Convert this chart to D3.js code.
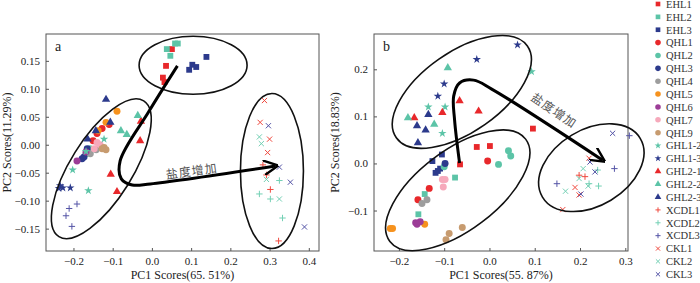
<!DOCTYPE html>
<html>
<head>
<meta charset="utf-8">
<script src="https://cdn.jsdelivr.net/npm/d3@7"></script>
<style>
  body { margin: 0; background: #fff; }
  svg { display: block; font-family: 'Liberation Serif', 'DejaVu Serif', serif; }
</style>
</head>
<body>
<svg id="chart" width="700" height="283"></svg>
<script>
// series (legend order)
const seriesNames = ['EHL1', 'EHL2', 'EHL3', 'QHL1', 'QHL2', 'QHL3', 'QHL4', 'QHL5', 'QHL6', 'QHL7', 'QHL9',
  'GHL1-2', 'GHL1-3', 'GHL2-1', 'GHL2-2', 'GHL2-3', 'XCDL1', 'XCDL2', 'XCDL3', 'CKL1', 'CKL2', 'CKL3']

// PC scores, rows: [series, PC1, PC2]
const scoresA = [
  ['EHL1', 0.051, 0.171], ['EHL1', 0.036, 0.141], ['EHL1', 0.028, 0.120], ['EHL1', 0.032, 0.112],
  ['EHL2', 0.059, 0.181], ['EHL2', 0.066, 0.181], ['EHL2', 0.038, 0.171], ['EHL2', 0.047, 0.159],
  ['EHL3', 0.139, 0.157], ['EHL3', 0.103, 0.143], ['EHL3', 0.113, 0.139], ['EHL3', 0.095, 0.134],
  ['QHL1', -0.127, 0.029], ['QHL1', -0.140, 0.020], ['QHL1', -0.109, 0.036], ['QHL1', -0.150, 0.007],
  ['QHL2', -0.168, -0.016], ['QHL2', -0.158, -0.007],
  ['QHL3', -0.165, -0.007], ['QHL3', -0.173, -0.022], ['QHL3', -0.178, -0.025],
  ['QHL4', -0.142, -0.009], ['QHL4', -0.157, -0.016],
  ['QHL5', -0.089, 0.060], ['QHL5', -0.117, 0.040], ['QHL5', -0.137, 0.025],
  ['QHL6', -0.191, -0.029], ['QHL6', -0.168, -0.013],
  ['QHL7', -0.132, 0.000], ['QHL7', -0.140, 0.004], ['QHL7', -0.147, -0.007],
  ['QHL9', -0.122, -0.005], ['QHL9', -0.117, -0.009], ['QHL9', -0.127, -0.007],
  ['GHL1-2', -0.202, -0.045], ['GHL1-2', -0.162, -0.082], ['GHL1-2', -0.122, 0.010], ['GHL1-2', -0.168, -0.012],
  ['GHL1-3', -0.234, -0.073], ['GHL1-3', -0.227, -0.077], ['GHL1-3', -0.237, -0.078], ['GHL1-3', -0.208, -0.077],
  ['GHL2-1', -0.028, 0.042], ['GHL2-1', -0.030, 0.007], ['GHL2-1', -0.105, -0.053], ['GHL2-1', -0.089, -0.084],
  ['GHL2-2', -0.036, 0.052], ['GHL2-2', -0.079, 0.025], ['GHL2-2', -0.064, 0.018],
  ['GHL2-3', -0.117, 0.081], ['GHL2-3', -0.106, 0.040], ['GHL2-3', -0.143, 0.025], ['GHL2-3', -0.164, 0.010],
  ['XCDL1', 0.283, -0.036], ['XCDL1', 0.292, -0.054], ['XCDL1', 0.302, -0.080], ['XCDL1', 0.323, -0.172],
  ['XCDL2', 0.325, -0.064], ['XCDL2', 0.274, -0.088], ['XCDL2', 0.302, -0.097], ['XCDL2', 0.333, -0.131],
  ['XCDL3', -0.191, -0.106], ['XCDL3', -0.211, -0.114], ['XCDL3', -0.219, -0.127], ['XCDL3', -0.204, -0.146],
  ['CKL1', 0.287, 0.079], ['CKL1', 0.276, 0.040], ['CKL1', 0.300, 0.010], ['CKL1', 0.295, -0.014],
  ['CKL2', 0.274, 0.014], ['CKL2', 0.279, 0.002], ['CKL2', 0.292, -0.062], ['CKL2', 0.325, -0.097],
  ['CKL3', 0.297, 0.034], ['CKL3', 0.325, -0.040], ['CKL3', 0.353, -0.067], ['CKL3', 0.389, -0.147]
]

const scoresB = [
  ['EHL1', -0.028, 0.035], ['EHL1', 0.001, 0.037], ['EHL1', 0.096, 0.074], ['EHL1', -0.065, -0.002],
  ['EHL2', -0.076, -0.030], ['EHL2', -0.143, -0.065], ['EHL2', -0.157, -0.108],
  ['EHL3', -0.105, 0.019], ['EHL3', -0.126, 0.005], ['EHL3', -0.109, -0.011], ['EHL3', -0.114, -0.016], ['EHL3', -0.119, -0.020],
  ['QHL1', -0.004, 0.005], ['QHL1', -0.133, -0.053], ['QHL1', -0.158, -0.077],
  ['QHL2', 0.042, 0.027], ['QHL2', 0.047, 0.016], ['QHL2', 0.020, -0.002], ['QHL2', -0.100, -0.007],
  ['QHL3', -0.098, 0.000],
  ['QHL4', -0.149, -0.085], ['QHL4', -0.138, -0.077],
  ['QHL5', -0.219, -0.138], ['QHL5', -0.214, -0.138], ['QHL5', -0.143, -0.129],
  ['QHL6', -0.163, -0.126], ['QHL6', -0.153, -0.124], ['QHL6', -0.160, -0.129],
  ['QHL7', -0.104, -0.034], ['QHL7', -0.102, -0.050], ['QHL7', -0.098, -0.034],
  ['QHL9', -0.060, -0.136], ['QHL9', -0.089, -0.149], ['QHL9', -0.096, -0.162],
  ['GHL1-2', -0.135, 0.120], ['GHL1-2', -0.098, 0.120], ['GHL1-2', -0.104, 0.064], ['GHL1-2', 0.093, 0.195],
  ['GHL1-3', -0.028, 0.221], ['GHL1-3', -0.100, 0.169], ['GHL1-3', -0.114, 0.143], ['GHL1-3', 0.062, 0.252],
  ['GHL2-1', -0.066, 0.133], ['GHL2-1', -0.104, 0.108], ['GHL2-1', -0.024, 0.111], ['GHL2-1', -0.166, 0.097],
  ['GHL2-2', -0.092, 0.203], ['GHL2-2', -0.180, 0.097], ['GHL2-2', -0.122, 0.083],
  ['GHL2-3', -0.135, 0.104], ['GHL2-3', -0.160, 0.080], ['GHL2-3', -0.141, 0.071], ['GHL2-3', -0.158, 0.044],
  ['XCDL1', 0.198, -0.025], ['XCDL1', 0.211, -0.028],
  ['XCDL2', 0.239, -0.014], ['XCDL2', 0.220, -0.043], ['XCDL2', 0.241, -0.048],
  ['XCDL3', 0.309, 0.059], ['XCDL3', 0.276, -0.011], ['XCDL3', 0.149, -0.043],
  ['CKL1', 0.220, 0.011], ['CKL1', 0.189, -0.051], ['CKL1', 0.198, -0.067], ['CKL1', 0.162, -0.098],
  ['CKL2', 0.207, -0.011], ['CKL2', 0.198, -0.032], ['CKL2', 0.218, -0.048], ['CKL2', 0.168, -0.059],
  ['CKL3', 0.222, 0.003], ['CKL3', 0.233, -0.018], ['CKL3', 0.202, -0.065], ['CKL3', 0.272, 0.064]
]

// tick values
const xTicksA = [-0.2, -0.1, 0.0, 0.1, 0.2, 0.3, 0.4]
const yTicksA = [-0.15, -0.10, -0.05, 0.00, 0.05, 0.10, 0.15]
const xTicksB = [-0.2, -0.1, 0.0, 0.1, 0.2, 0.3]
const yTicksB = [-0.1, 0.0, 0.1, 0.2]

// group ellipses: centre in data units, half axes in px, rotation in deg
const ellipsesA = [[0.105, 0.142, 54, 29, 0], [-0.129, -0.043, 80, 31, -58], [0.306, -0.047, 31.5, 77.5, 0]]
const ellipsesB = [[-0.061, 0.152, 80, 40, -35], [-0.070, -0.057, 85, 40, -37], [0.225, -0.009, 57, 38, -31]]

// arrow routes in data units
const arrowA = [[0.065, 0.141], [-0.009, 0.058], [-0.081, -0.029], [-0.078, -0.061], [-0.050, -0.072], [-0.004, -0.070], [0.315, -0.038]]
const arrowB = [[-0.066, 0.001], [-0.077, 0.092], [-0.079, 0.143], [-0.066, 0.171], [-0.035, 0.177], [0.005, 0.158], [0.250, 0.007]]

// styles
const red = '#e8282b'
const teal = '#5cc4a7'
const navy = '#2c3a8c'
const colorOf = {
  EHL1: red, EHL2: teal, EHL3: navy, QHL1: red, QHL2: teal, QHL3: navy, QHL4: '#9d9d9d',
  QHL5: '#f6921e', QHL6: '#9c3d97', QHL7: '#f6a9bb', QHL9: '#c79b6f',
  'GHL1-2': teal, 'GHL1-3': navy, 'GHL2-1': red, 'GHL2-2': teal, 'GHL2-3': navy,
  XCDL1: '#ef4a3f', XCDL2: '#73d0b4', XCDL3: '#5454a6', CKL1: '#ef4a3f', CKL2: '#73d0b4', CKL3: '#5454a6'
}
const shapeOf = name => {
  if (name.startsWith('EHL')) return 'square'
  if (name.startsWith('QHL')) return 'circle'
  if (name.startsWith('GHL1')) return 'star'
  if (name.startsWith('GHL2')) return 'triangle'
  if (name.startsWith('XCDL')) return 'plus'
  return 'x'
}

const svg = d3.select('#chart')

function markerPath (shape, k) {
  if (shape === 'plus') {
    const h = 3.2 * k
    return `M${-h},0H${h}M0,${-h}V${h}`
  }
  if (shape === 'x') {
    const h = 2.6 * k
    return `M${-h},${-h}L${h},${h}M${-h},${h}L${h},${-h}`
  }
  const types = { square: d3.symbolSquare, circle: d3.symbolCircle, triangle: d3.symbolTriangle, star: d3.symbolStar }
  const sizes = { square: 34, circle: 38, triangle: 30, star: 22 }
  return d3.symbol().type(types[shape]).size(sizes[shape] * k * k)()
}

function drawMarker (sel, name, k) {
  const shape = shapeOf(name)
  const p = sel.append('path').attr('d', markerPath(shape, k))
  if (shape === 'plus' || shape === 'x') {
    p.attr('fill', 'none').attr('stroke', colorOf[name]).attr('stroke-width', 1)
  } else {
    p.attr('fill', colorOf[name])
  }
}

svg.append('defs').append('marker')
  .attr('id', 'head')
  .attr('viewBox', '0 0 10 10')
  .attr('refX', 8).attr('refY', 5)
  .attr('markerWidth', 5).attr('markerHeight', 5)
  .attr('markerUnits', 'strokeWidth')
  .attr('orient', 'auto')
  .append('path')
  .attr('d', 'M0,0L10,5L0,10')
  .attr('fill', 'none').attr('stroke', '#000').attr('stroke-width', 1.6)

function drawPanel (cfg) {
  const x = d3.scaleLinear().domain(cfg.xDomain).range([cfg.left, cfg.right])
  const y = d3.scaleLinear().domain(cfg.yDomain).range([cfg.bottom, cfg.top])
  const g = svg.append('g')

  const xAxis = d3.axisBottom(x).tickValues(cfg.xTicks).tickSize(-3).tickPadding(6)
    .tickFormat(d => d3.format('.1f')(d).replace('-', '\u2212'))
  const yAxis = d3.axisLeft(y).tickValues(cfg.yTicks).tickSize(-3).tickPadding(6)
    .tickFormat(d => d3.format(cfg.yFormat)(d).replace('-', '\u2212'))

  g.append('g').attr('transform', `translate(0,${cfg.bottom})`).call(xAxis)
  g.append('g').attr('transform', `translate(${cfg.left},0)`).call(yAxis)
  g.selectAll('.domain').remove()
  g.selectAll('.tick line').attr('stroke', '#555')
  g.selectAll('.tick text').attr('font-size', 11).attr('fill', '#222')
    .attr('font-family', 'Liberation Serif, serif')

  g.append('rect')
    .attr('x', cfg.left).attr('y', cfg.top)
    .attr('width', cfg.right - cfg.left).attr('height', cfg.bottom - cfg.top)
    .attr('fill', 'none').attr('stroke', '#555').attr('stroke-width', 1)

  // points
  cfg.scores.forEach(([name, px, py]) => {
    const m = g.append('g').attr('transform', `translate(${x(px)},${y(py)})`)
    drawMarker(m, name, 1)
  })

  // ellipses
  g.selectAll('ellipse.grp')
    .data(cfg.ellipses)
    .enter()
    .append('ellipse')
    .attr('class', 'grp')
    .attr('transform', d => `translate(${x(d[0])},${y(d[1])}) rotate(${d[4]})`)
    .attr('rx', d => d[2]).attr('ry', d => d[3])
    .attr('fill', 'none').attr('stroke', '#111').attr('stroke-width', 1.6)

  // arrow
  const line = d3.line().x(d => x(d[0])).y(d => y(d[1])).curve(d3.curveCatmullRom.alpha(0.5))
  g.append('path')
    .attr('d', line(cfg.arrow))
    .attr('fill', 'none').attr('stroke', '#000').attr('stroke-width', 3)
    .attr('marker-end', 'url(#head)')

  g.append('text')
    .attr('transform', `translate(${x(cfg.note[0])},${y(cfg.note[1])}) rotate(${cfg.note[2]})`)
    .attr('text-anchor', 'middle')
    .attr('font-family', "'Noto Sans CJK SC', sans-serif")
    .attr('font-size', 12).attr('fill', '#555')
    .attr('letter-spacing', 1)
    .text('盐度增加')

  g.append('text')
    .attr('x', cfg.left + 9).attr('y', cfg.top + 17)
    .attr('font-size', 14).attr('fill', '#222')
    .text(cfg.label)

  g.append('text')
    .attr('x', (cfg.left + cfg.right) / 2).attr('y', 279)
    .attr('text-anchor', 'middle').attr('font-size', 12).attr('fill', '#222')
    .text(cfg.xTitle)

  g.append('text')
    .attr('transform', `translate(${cfg.left - 35},${(cfg.top + cfg.bottom) / 2}) rotate(-90)`)
    .attr('text-anchor', 'middle').attr('font-size', 12).attr('fill', '#222')
    .text(cfg.yTitle)
}

drawPanel({
  left: 46, right: 319, top: 34, bottom: 251,
  xDomain: [-0.27, 0.426], yDomain: [-0.19, 0.198],
  xTicks: xTicksA, yTicks: yTicksA, yFormat: '.2f',
  scores: scoresA, ellipses: ellipsesA, arrow: arrowA,
  note: [0.103, -0.055, -8],
  label: 'a', xTitle: 'PC1 Scores(65. 51%)', yTitle: 'PC2 Scores(11.29%)'
})

drawPanel({
  left: 374, right: 628, top: 34, bottom: 251,
  xDomain: [-0.255, 0.306], yDomain: [-0.186, 0.275],
  xTicks: xTicksB, yTicks: yTicksB, yFormat: '.1f',
  scores: scoresB, ellipses: ellipsesB, arrow: arrowB,
  note: [0.137, 0.105, 34],
  label: 'b', xTitle: 'PC1 Scores(55. 87%)', yTitle: 'PC2 Scores(18.83%)'
})

// legend
const legend = svg.append('g')
seriesNames.forEach((name, i) => {
  const row = legend.append('g').attr('transform', `translate(658,${4 + i * 12.87})`)
  drawMarker(row, name, 0.8)
  row.append('text')
    .attr('x', 8).attr('y', 3.8)
    .attr('font-size', 10.5).attr('fill', '#333')
    .text(name)
})
</script>
</body>
</html>
